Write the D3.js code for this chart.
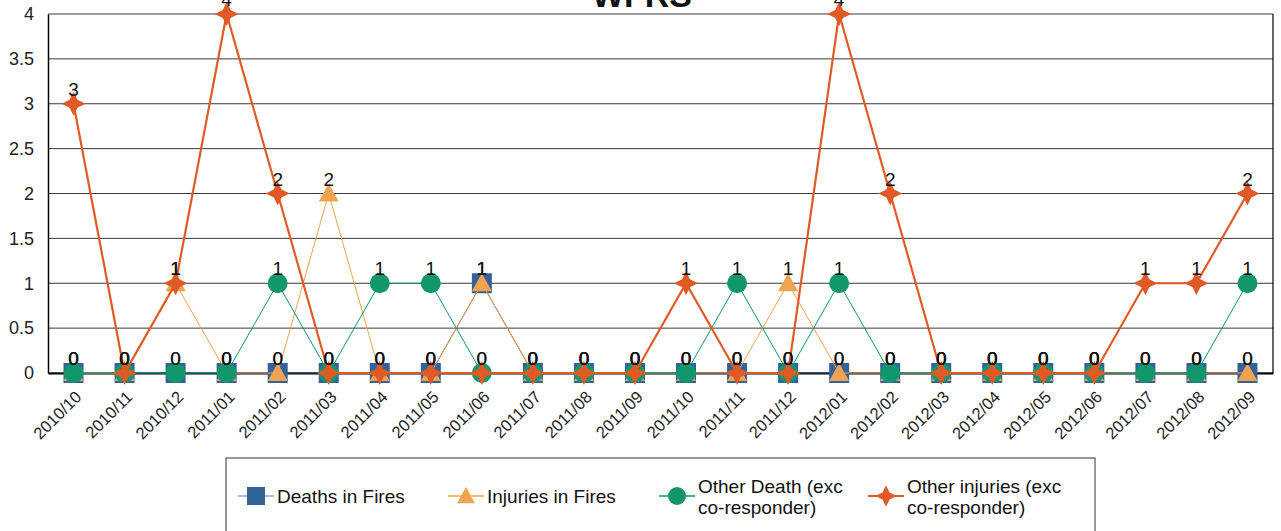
<!DOCTYPE html>
<html>
<head>
<meta charset="utf-8">
<script src="https://cdn.jsdelivr.net/npm/d3@7"></script>
<style>
  body { margin: 0; background: #fff; }
  svg { display: block; font-family: "Liberation Sans", Arial, sans-serif; }
</style>
</head>
<body>
<svg width="1281" height="531"></svg>
<script>
// categories and series
var months = ["2010/10","2010/11","2010/12","2011/01","2011/02","2011/03","2011/04","2011/05",
              "2011/06","2011/07","2011/08","2011/09","2011/10","2011/11","2011/12","2012/01",
              "2012/02","2012/03","2012/04","2012/05","2012/06","2012/07","2012/08","2012/09"]
var deathsInFires   = [0,0,0,0,0,0,0,0,1,0,0,0,0,0,0,0,0,0,0,0,0,0,0,0]
var injuriesInFires = [0,0,1,0,0,2,0,0,1,0,0,0,0,0,1,0,0,0,0,0,0,0,0,0]
var otherDeath      = [0,0,0,0,1,0,1,1,0,0,0,0,0,1,0,1,0,0,0,0,0,0,0,1]
var otherInjuries   = [3,0,1,4,2,0,0,0,0,0,0,0,1,0,0,4,2,0,0,0,0,1,1,2]
var yTicks = [0,0.5,1,1.5,2,2.5,3,3.5,4]
var seriesNames = ["Deaths in Fires","Injuries in Fires","Other Death (exc co-responder)","Other injuries (exc co-responder)"]

var margins = {top:14, right:8, bottom:158, left:48}
var screen = {width:1281, height:531}
var width = screen.width - margins.left - margins.right
var height = screen.height - margins.top - margins.bottom

var series = [
    {name:seriesNames[0], arr:deathsInFires,   color:"#356199", shape:"square",   lw:1,   line:"#2d4f80", legLine:"#8aa6c8"},
    {name:seriesNames[1], arr:injuriesInFires, color:"#f0a352", shape:"triangle", lw:1,   line:"#f0a352", legLine:"#f0a352"},
    {name:seriesNames[2], arr:otherDeath,      color:"#12966c", shape:"circle",   lw:1,   line:"#12966c", legLine:"#12966c"},
    {name:seriesNames[3], arr:otherInjuries,   color:"#e05a26", shape:"star",     lw:2.2, line:"#e05a26", legLine:"#e05a26"}
]

var svg = d3.select("svg")

var xScale = d3.scaleBand().domain(months).range([0, width])
var yScale = d3.scaleLinear().domain([0,4]).range([height, 0])
var cx = function(m){ return xScale(m) + xScale.bandwidth()/2 }

var g = svg.append("g").attr("transform","translate("+margins.left+","+margins.top+")")

// grid
g.selectAll(".grid").data(yTicks).enter().append("line")
    .attr("x1",0).attr("x2",width)
    .attr("y1",function(d){return yScale(d)}).attr("y2",function(d){return yScale(d)})
    .attr("stroke","#3a3a3a").attr("stroke-width",1)

// axes
var yAxis = d3.axisLeft(yScale).tickValues(yTicks).tickSize(0).tickPadding(14).tickFormat(d3.format("~g"))
g.append("g").call(yAxis)
    .call(function(s){ s.select(".domain").attr("stroke","#000").attr("stroke-width",1.5) })
    .selectAll("text").attr("font-size",18).attr("fill","#222").attr("font-family","Liberation Sans, Arial, sans-serif")

g.append("line").attr("x1",width).attr("x2",width).attr("y1",0).attr("y2",height).attr("stroke","#000").attr("stroke-width",1.2)

var xAxis = d3.axisBottom(xScale).tickSize(0).tickPadding(0)
var xg = g.append("g").attr("transform","translate(0,"+height+")").call(xAxis)
xg.select(".domain").attr("stroke","#000").attr("stroke-width",2)
xg.selectAll("text")
    .attr("font-size",16.5).attr("fill","#222").attr("font-family","Liberation Sans, Arial, sans-serif")
    .attr("text-anchor","end")
    .attr("dy",0).attr("y",0)
    .attr("transform","translate(9,25) rotate(-45)")

// marker shapes
var starPath = function(R, r){
    var pts = []
    for (var i = 0; i < 8; i++) {
        var a = -Math.PI/2 + i*Math.PI/4
        var rad = (i % 2 === 0) ? R : r
        pts.push([rad*Math.cos(a), rad*Math.sin(a)])
    }
    return "M" + pts.map(function(p){return p[0].toFixed(2)+","+p[1].toFixed(2)}).join("L") + "Z"
}
var shapePath = function(shape, s){
    s = s || 1
    if (shape === "square") return "M"+(-10*s)+","+(-10*s)+"h"+(20*s)+"v"+(20*s)+"h"+(-20*s)+"Z"
    if (shape === "triangle") return "M0,"+(-10*s)+"L"+(10*s)+","+(8*s)+"L"+(-10*s)+","+(8*s)+"Z"
    if (shape === "circle") return d3.symbol().type(d3.symbolCircle).size(Math.PI*100*s*s)()
    return starPath(12*s, 5.5*s)
}

var line = d3.line()
    .x(function(d,i){ return cx(months[i]) })
    .y(function(d){ return yScale(d) })

// lines + markers, series by series
series.forEach(function(ser){
    var sg = g.append("g")
    sg.append("path").datum(ser.arr).attr("d", line)
        .attr("fill","none").attr("stroke",ser.line).attr("stroke-width",ser.lw)
    sg.selectAll(".mk").data(ser.arr).enter().append("path")
        .attr("d", shapePath(ser.shape))
        .attr("transform", function(d,i){ return "translate("+cx(months[i])+","+yScale(d)+")" })
        .attr("fill", ser.color)
})

// data labels
series.forEach(function(ser){
    g.append("g").selectAll("text").data(ser.arr).enter().append("text")
        .attr("x", function(d,i){ return cx(months[i]) })
        .attr("y", function(d){ return yScale(d) - 8 })
        .attr("text-anchor","middle").attr("font-size",19).attr("fill","#111")
        .text(function(d){ return d })
})

// title (cut off at the top)
svg.append("text").attr("x",642).attr("y",7).attr("text-anchor","middle")
    .attr("font-size",34).attr("font-weight","bold").attr("fill","#111").text("WFRS")

// legend
var lg = svg.append("g").attr("transform","translate(226,458)")
lg.append("rect").attr("width",869).attr("height",80).attr("fill","#fff").attr("stroke","#333").attr("stroke-width",1)
var legendX = [30, 240, 451, 660]
series.forEach(function(ser, i){
    var e = lg.append("g").attr("transform","translate("+legendX[i]+",38)")
    e.append("line").attr("x1",-18).attr("x2",18).attr("y1",0).attr("y2",0)
        .attr("stroke",ser.legLine).attr("stroke-width",ser.lw === 1 ? 1.5 : 2)
    e.append("path").attr("d", shapePath(ser.shape, 0.9)).attr("fill",ser.color)
    var words = ser.name.indexOf("(exc") > 0 ? [ser.name.replace(" co-responder)",""), "co-responder)"] : [ser.name]
    var t = e.append("text").attr("x",21).attr("font-size",19).attr("fill","#111")
    words.forEach(function(w, k){
        t.append("tspan").attr("x",21)
            .attr("y", words.length === 1 ? 7 : (k === 0 ? -3 : 18))
            .text(w)
    })
})
</script>
</body>
</html>
